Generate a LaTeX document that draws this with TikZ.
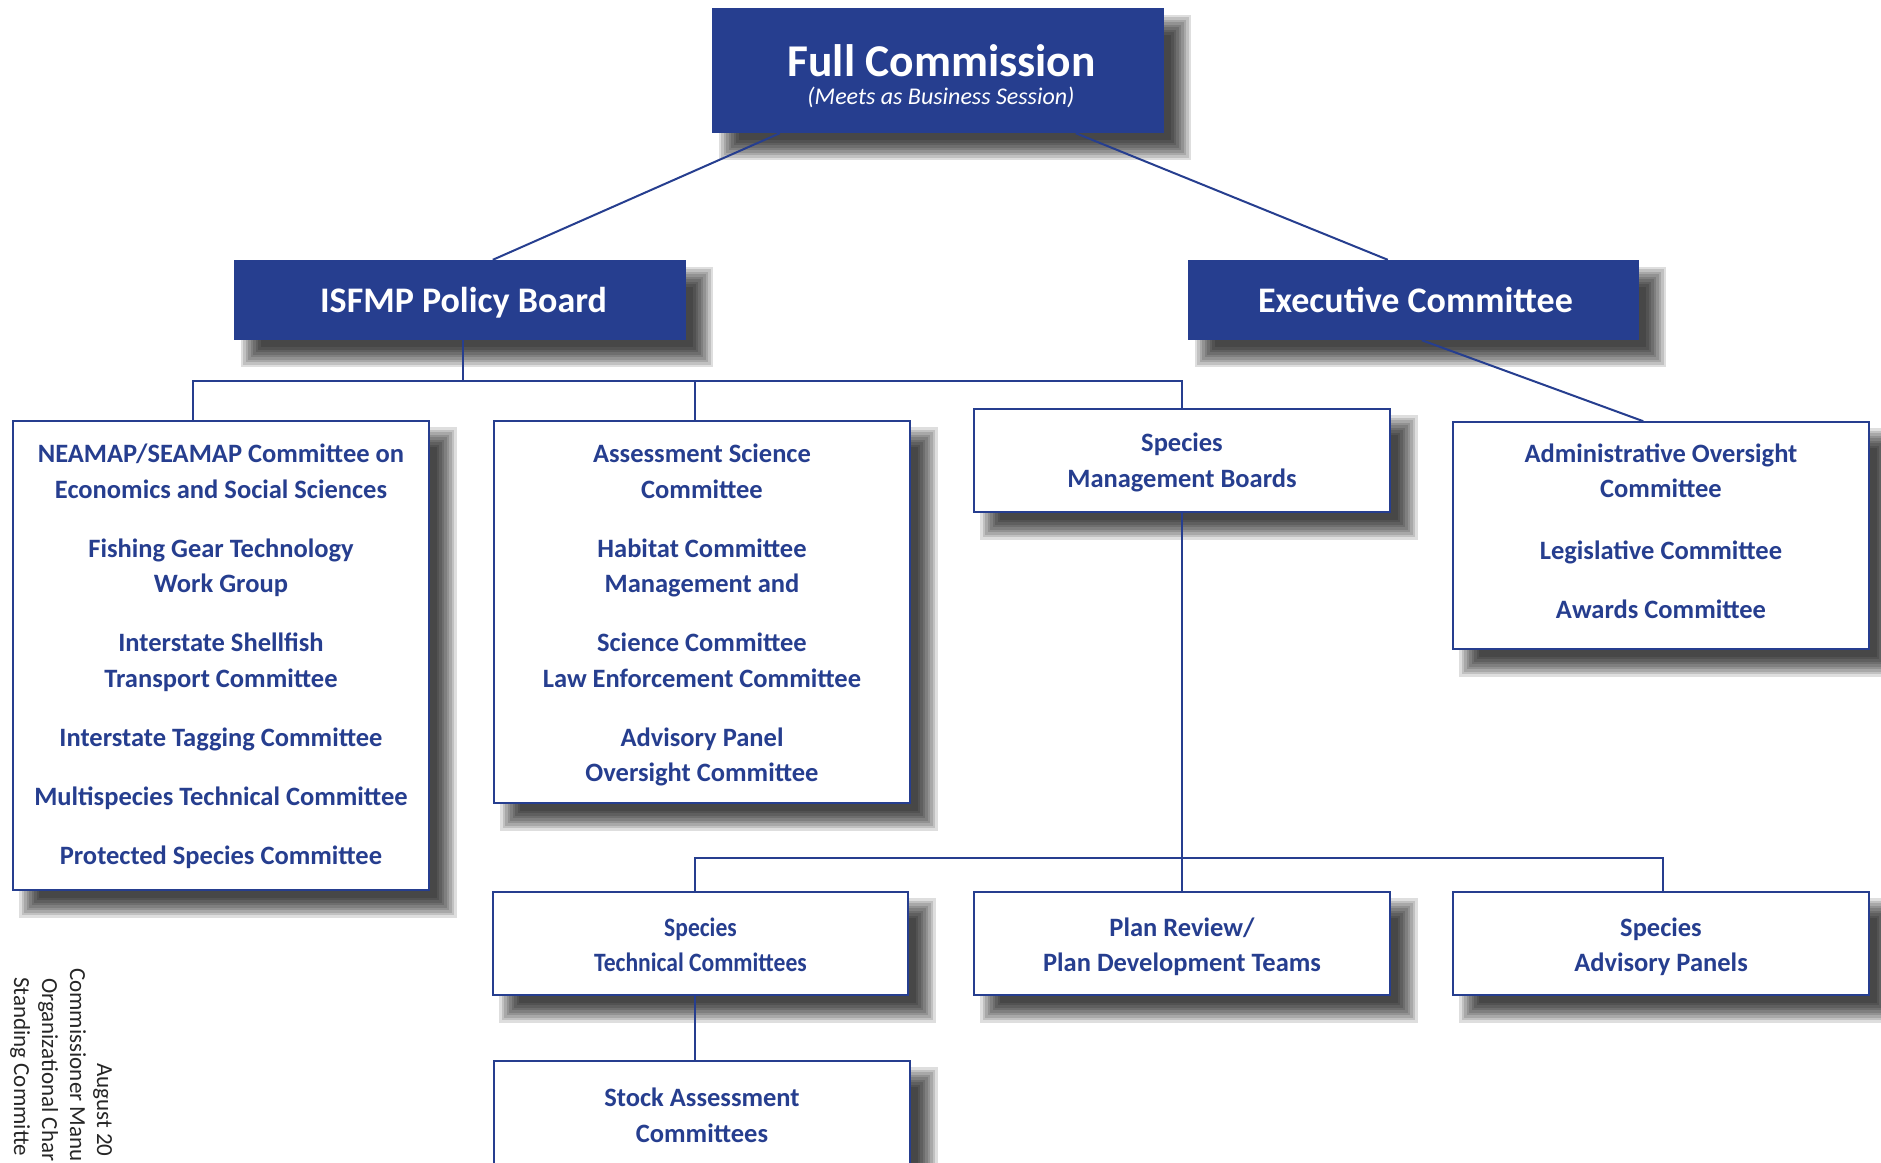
\documentclass[tikz,border=0pt]{standalone}
\usepackage{fontspec}
\usepackage{graphicx}
\setmainfont{Carlito}
\usetikzlibrary{backgrounds,calc}
\definecolor{asmfc}{RGB}{38,62,143}
\begin{document}
\begin{tikzpicture}[x=1pt,y=-1pt,
  darkbox/.style={draw=none, fill=asmfc, text=white, inner sep=0pt, text depth=0pt,
    font=\bfseries\fontsize{36}{43}\selectfont},
  whitebox/.style={draw=asmfc, line width=1.6pt, fill=white, inner sep=0pt},
  boxtext/.style={text=asmfc, align=center, inner sep=0pt,
    font=\bfseries\fontsize{26.5}{35.5}\selectfont},
  conn/.style={draw=asmfc, line width=2pt},
  sidetext/.style={rotate=-90, anchor=base west, inner sep=0pt, text=black!85,
    font=\fontsize{23}{28}\selectfont},
]
\useasboundingbox (0,0) rectangle (1881,1162);
\clip (0,0) rectangle (1881,1162);

% top level
\node[darkbox, minimum width=452, minimum height=125] (FC) at (938,70.5) {};
\node[text=white, inner sep=0pt, anchor=base, font=\bfseries\fontsize{45.5}{54}\selectfont] (FCt) at (941.5,76) {Full Commission};
\node[text=white, inner sep=0pt, anchor=base, font=\itshape\fontsize{24}{28}\selectfont] (FCs) at (941,104) {(Meets as Business Session)};

\node[darkbox, minimum width=452, minimum height=80] (ISF) at (460,300) {\hspace*{7pt}ISFMP Policy Board};
\node[darkbox, minimum width=451, minimum height=80] (EX) at (1413.5,300) {\hspace*{4pt}Executive Committee};

% second level boxes
\node[whitebox, minimum width=416, minimum height=469] (L) at (221,655.5) {};
\node[whitebox, minimum width=416, minimum height=382] (M) at (702,612) {};
\node[whitebox, minimum width=416, minimum height=103] (SMB) at (1182,460.5) {};
\node[whitebox, minimum width=416, minimum height=227] (A) at (1661,535.5) {};
% third level boxes
\node[whitebox, minimum width=415, minimum height=103] (STC) at (700.5,943.5) {};
\node[whitebox, minimum width=416, minimum height=103] (PR) at (1182,943.5) {};
\node[whitebox, minimum width=416, minimum height=103] (SAP) at (1661,943.5) {};
\node[whitebox, minimum width=416, minimum height=107] (SAC) at (702,1114.5) {};

% box texts
\node[boxtext] (Lt) at (221,656.5)
 {NEAMAP/SEAMAP Committee on\\Economics and Social Sciences\\[23.5pt]
  Fishing Gear Technology\\Work Group\\[23.5pt]
  Interstate Shellfish\\Transport Committee\\[23.5pt]
  Interstate Tagging Committee\\[23.5pt]
  Multispecies Technical Committee\\[23.5pt]
  Protected Species Committee};
\node[boxtext] (Mt) at (702,615)
 {Assessment Science\\Committee\\[23.5pt]
  Habitat Committee\\Management and\\[23.5pt]
  Science Committee\\Law Enforcement Committee\\[23.5pt]
  Advisory Panel\\Oversight Committee};
\node[boxtext] (SMBt) at (1182,462.3) {Species\\Management Boards};
\node[boxtext] (At) at (1661,531.5)
 {Administrative Oversight\\Committee\\[26.5pt]
  Legislative Committee\\[23.5pt]
  Awards Committee};
\node[boxtext] (STCt) at (700.5,947)
 {\scalebox{0.89}[1]{\begin{tabular}{@{}c@{}}Species\\Technical Committees\end{tabular}}};
\node[boxtext] (PRt) at (1182,947) {Plan Review/\\Plan Development Teams};
\node[boxtext] (SAPt) at (1661,947) {Species\\Advisory Panels};
\node[boxtext] (SACt) at (702,1115.5) {Stock Assessment\\Committees};

% side text
\node[sidetext] (t1) at (97,1063) {August 20};
\node[sidetext] (t2) at (70,968) {Commissioner Manu};
\node[sidetext] (t3) at (42,978) {Organizational Char};
\node[sidetext] (t4) at (14,977) {Standing Committe};

% shadows
\begin{scope}[on background layer]
  \fill[white] (0,0) rectangle (1881,1162);
  \foreach \n in {FC,ISF,EX,L,M,SMB,A,STC,PR,SAP,SAC}{
    \foreach \e in {10,7.5,5,2.5,0,-2.5,-5,-7.5,-10}{
      \fill[black,opacity=.13] ([shift={(17-\e,17-\e)}]\n.north west) rectangle ([shift={(17+\e,17+\e)}]\n.south east);
    }
  }
\end{scope}

% connectors
\coordinate (busT) at (0,381);
\coordinate (busB) at (0,858);
\coordinate (dL) at ([xshift=181]L.north west);
\coordinate (dM) at ([xshift=202]M.north west);
\coordinate (dI) at ([xshift=3]ISF.south);
\coordinate (dS) at ([xshift=203]STC.north west);
\coordinate (dA) at ([xshift=211]SAP.north west);
\coordinate (dK) at ([xshift=203]STC.south west);

\draw[conn] ([xshift=68]FC.south west) -- ([xshift=259]ISF.north west);
\draw[conn] ([xshift=364]FC.south west) -- ([xshift=200]EX.north west);
\draw[conn] ([xshift=234]EX.south west) -- ([xshift=191]A.north west);

\draw[conn] (dI) -- (dI |- busT);
\draw[conn] (dL) -- (dL |- busT) -- (SMB.north |- busT) -- (SMB.north);
\draw[conn] (dM |- busT) -- (dM);

\draw[conn] (SMB.south) -- (PR.north);
\draw[conn] (dS) -- (dS |- busB) -- (dA |- busB) -- (dA);
\draw[conn] (dK) -- (dK |- SAC.north);
\end{tikzpicture}
\end{document}
